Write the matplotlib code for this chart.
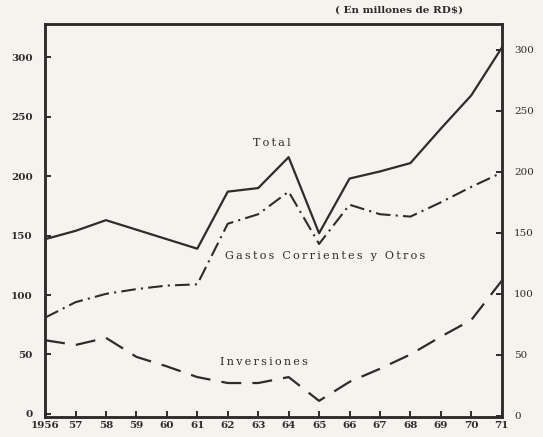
import matplotlib.pyplot as plt

years = list(range(1956, 1972))
year_labels = ['1956', '57', '58', '59', '60', '61', '62', '63', '64', '65',
               '66', '67', '68', '69', '70', '71']

# millones de RD$
total = [147, 154, 163, 155, 147, 139, 187, 190, 216, 152, 198, 204, 211, 240, 268, 308]
gastos = [81, 94, 101, 105, 108, 109, 160, 168, 187, 143, 176, 168, 166, 178, 191, 203]
inversiones = [62, 58, 64, 48, 40, 31, 26, 26, 31, 11, 27, 38, 50, 65, 79, 112]

y_ticks = [0, 50, 100, 150, 200, 250, 300]

ink = '#2e2c2a'
paper = '#f5f3ee'
thin = '\u2009'


def spaced(s):
    # typewriter-style letter spacing
    return thin.join(s)


plt.rcParams['font.family'] = ['DejaVu Serif']

fig = plt.figure(figsize=(5.43, 4.37), dpi=100, facecolor=paper)
ax = fig.add_axes([0.083, 0.046, 0.841, 0.899])
ax.set_facecolor(paper)

ax.plot(years, total, color=ink, lw=1.6)
ax.plot(years, gastos, color=ink, lw=1.5, linestyle=(0, (7, 2.5, 1, 2.5)))
ax.plot(years, inversiones, color=ink, lw=1.6, linestyle=(0, (9, 5)))

ax.set_xlim(1956, 1971)
ax.set_ylim(-2.5, 328)
ax.set_xticks(years)
ax.set_xticklabels(year_labels)
ax.set_yticks(y_ticks)

ax2 = ax.twinx()
ax2.set_ylim(-1, 321)
ax2.set_yticks(y_ticks)

for a in (ax, ax2):
    for s in a.spines.values():
        s.set_color(ink)
        s.set_linewidth(1.8)
    a.tick_params(direction='in', length=4, width=1.4, color=ink,
                  labelcolor=ink, labelsize=7.5, pad=9)

ax.tick_params(axis='x', pad=3, labelsize=7.5)
for lab in ax.get_xticklabels() + ax.get_yticklabels():
    lab.set_fontweight('bold')

ax.text(1963.45, 228, spaced('Total'), fontsize=8, color=ink, ha='center', va='center')
ax.text(1965.2, 133, spaced('Gastos Corrientes y Otros'), fontsize=8, color=ink,
        ha='center', va='center')
ax.text(1963.2, 44, spaced('Inversiones'), fontsize=8, color=ink,
        ha='center', va='center')

fig.text(0.735, 0.978, '( En millones de RD$)', fontsize=7.5, color=ink,
         ha='center', va='center', fontweight='bold')

fig.savefig('out.png', dpi=100, facecolor=paper)
